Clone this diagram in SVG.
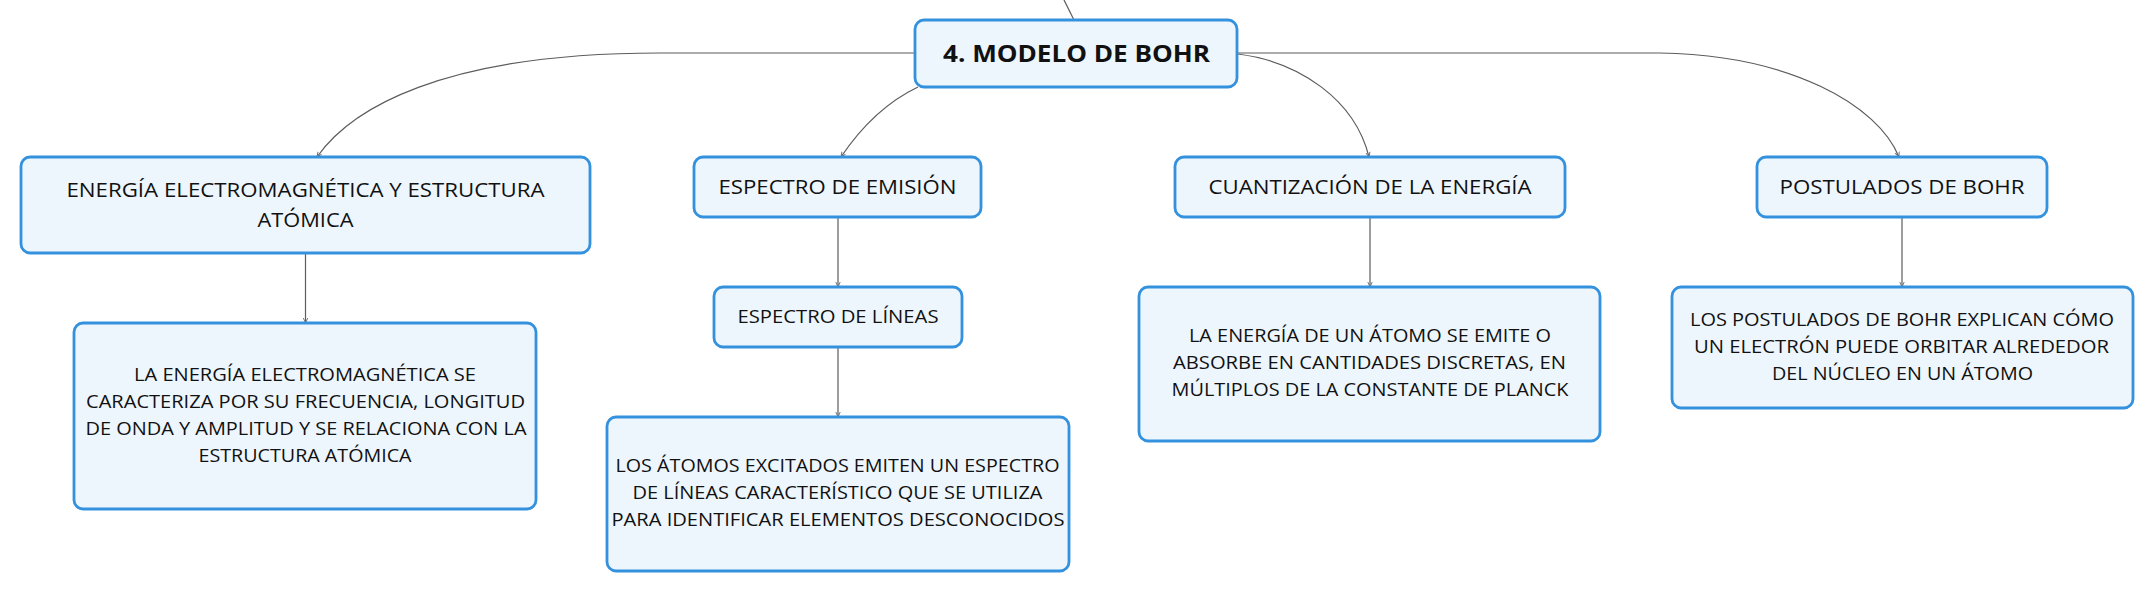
<svg xmlns="http://www.w3.org/2000/svg" width="2154" height="591" viewBox="0 0 2154 591">
<defs>
<style>
.box{fill:#eef6fd;stroke:#3391de;stroke-width:2.8}
.t{font-family:"Open Sans","Liberation Sans",sans-serif;fill:#111;text-anchor:middle}
.l1{font-size:20px}
.l2{font-size:18px}
.root{font-size:24px;font-weight:700}
.c{fill:none;stroke:#5c5c5c;stroke-width:1.2}
</style>
<marker id="ah" markerUnits="userSpaceOnUse" markerWidth="6" markerHeight="6" refX="5" refY="3" orient="auto">
<path d="M0,0.8 L5,3 L0,5.2" fill="none" stroke="#6a6a6a" stroke-width="0.9"/>
</marker>
</defs>
<rect width="2154" height="591" fill="#ffffff"/>
<g id="connectors">
<path class="c" d="M1064,0 L1073.5,19"/>
<path class="c" d="M915,53 L660,53 C440,53 350,110 317,157" marker-end="url(#ah)"/>
<path class="c" d="M918,87 Q874,108 841,157" marker-end="url(#ah)"/>
<path class="c" d="M1238,54 C1300,62 1355,100 1369,157" marker-end="url(#ah)"/>
<path class="c" d="M1238,53 L1660,53 C1790,55 1878,105 1899,157" marker-end="url(#ah)"/>
<path class="c" d="M305.5,253 L305.5,323" marker-end="url(#ah)"/>
<path class="c" d="M838,217 L838,287" marker-end="url(#ah)"/>
<path class="c" d="M838,347 L838,417" marker-end="url(#ah)"/>
<path class="c" d="M1370,217 L1370,287" marker-end="url(#ah)"/>
<path class="c" d="M1902,217 L1902,287" marker-end="url(#ah)"/>
</g>
<g id="root">
<rect class="box" x="915" y="20" width="322" height="67" rx="9"/>
<text class="t root" x="1076.5" y="62" textLength="267" lengthAdjust="spacingAndGlyphs">4. MODELO DE BOHR</text>
</g>
<g id="n1">
<rect class="box" x="21" y="157" width="569" height="96" rx="9"/>
<text class="t l1" x="305.5" y="197" textLength="478" lengthAdjust="spacingAndGlyphs">ENERGÍA ELECTROMAGNÉTICA Y ESTRUCTURA</text>
<text class="t l1" x="305.5" y="227" textLength="96" lengthAdjust="spacingAndGlyphs">ATÓMICA</text>
</g>
<g id="n2">
<rect class="box" x="694" y="157" width="287" height="60" rx="9"/>
<text class="t l1" x="837.5" y="194" textLength="238" lengthAdjust="spacingAndGlyphs">ESPECTRO DE EMISIÓN</text>
</g>
<g id="n3">
<rect class="box" x="1175" y="157" width="390" height="60" rx="9"/>
<text class="t l1" x="1370" y="194" textLength="323" lengthAdjust="spacingAndGlyphs">CUANTIZACIÓN DE LA ENERGÍA</text>
</g>
<g id="n4">
<rect class="box" x="1757" y="157" width="290" height="60" rx="9"/>
<text class="t l1" x="1902" y="194" textLength="245" lengthAdjust="spacingAndGlyphs">POSTULADOS DE BOHR</text>
</g>
<g id="n1c">
<rect class="box" x="74" y="323" width="462" height="186" rx="9"/>
<text class="t l2" x="305" y="381" textLength="342" lengthAdjust="spacingAndGlyphs">LA ENERGÍA ELECTROMAGNÉTICA SE</text>
<text class="t l2" x="305.5" y="408" textLength="439" lengthAdjust="spacingAndGlyphs">CARACTERIZA POR SU FRECUENCIA, LONGITUD</text>
<text class="t l2" x="306" y="435" textLength="441" lengthAdjust="spacingAndGlyphs">DE ONDA Y AMPLITUD Y SE RELACIONA CON LA</text>
<text class="t l2" x="305" y="462" textLength="213" lengthAdjust="spacingAndGlyphs">ESTRUCTURA ATÓMICA</text>
</g>
<g id="n2a">
<rect class="box" x="714" y="287" width="248" height="60" rx="9"/>
<text class="t l2" x="838" y="323" textLength="201" lengthAdjust="spacingAndGlyphs">ESPECTRO DE LÍNEAS</text>
</g>
<g id="n2b">
<rect class="box" x="607" y="417" width="462" height="154" rx="9"/>
<text class="t l2" x="837.5" y="472" textLength="444" lengthAdjust="spacingAndGlyphs">LOS ÁTOMOS EXCITADOS EMITEN UN ESPECTRO</text>
<text class="t l2" x="837.5" y="499" textLength="410" lengthAdjust="spacingAndGlyphs">DE LÍNEAS CARACTERÍSTICO QUE SE UTILIZA</text>
<text class="t l2" x="838" y="525.5" textLength="453" lengthAdjust="spacingAndGlyphs">PARA IDENTIFICAR ELEMENTOS DESCONOCIDOS</text>
</g>
<g id="n3c">
<rect class="box" x="1139" y="287" width="461" height="154" rx="9"/>
<text class="t l2" x="1370" y="342" textLength="362" lengthAdjust="spacingAndGlyphs">LA ENERGÍA DE UN ÁTOMO SE EMITE O</text>
<text class="t l2" x="1369.5" y="369" textLength="393" lengthAdjust="spacingAndGlyphs">ABSORBE EN CANTIDADES DISCRETAS, EN</text>
<text class="t l2" x="1370" y="396" textLength="397" lengthAdjust="spacingAndGlyphs">MÚLTIPLOS DE LA CONSTANTE DE PLANCK</text>
</g>
<g id="n4c">
<rect class="box" x="1672" y="287" width="461" height="121" rx="9"/>
<text class="t l2" x="1902" y="326" textLength="424" lengthAdjust="spacingAndGlyphs">LOS POSTULADOS DE BOHR EXPLICAN CÓMO</text>
<text class="t l2" x="1901.5" y="353" textLength="415" lengthAdjust="spacingAndGlyphs">UN ELECTRÓN PUEDE ORBITAR ALREDEDOR</text>
<text class="t l2" x="1902.5" y="380" textLength="261" lengthAdjust="spacingAndGlyphs">DEL NÚCLEO EN UN ÁTOMO</text>
</g>
</svg>
